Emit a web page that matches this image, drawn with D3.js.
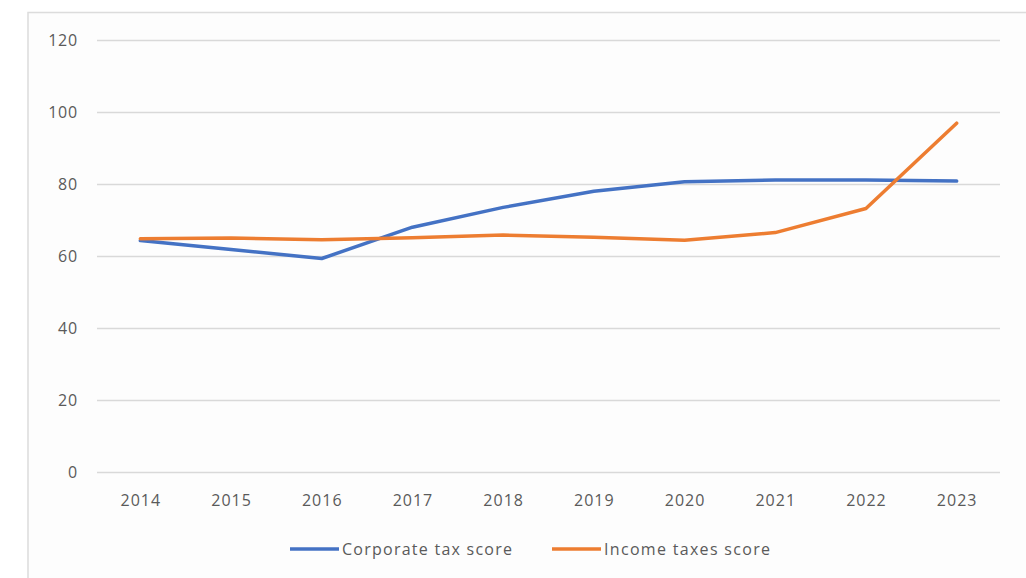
<!DOCTYPE html>
<html>
<head>
<meta charset="utf-8">
<script src="https://cdn.jsdelivr.net/npm/d3@7/dist/d3.min.js"></script>
<style>
  html, body { margin: 0; padding: 0; background: #ffffff; }
  svg { display: block; }
  text { font-family: "Open Sans", Lato, sans-serif; fill: #5a5a5a; }
</style>
</head>
<body>
<svg id="chart" width="1026" height="578"></svg>
<script>
// Annual scores
const years = ["2014", "2015", "2016", "2017", "2018", "2019", "2020", "2021", "2022", "2023"];
const corporateTax = [64.3, 61.8, 59.3, 68.0, 73.5, 78.0, 80.6, 81.1, 81.1, 80.8];
const incomeTaxes = [64.8, 65.0, 64.5, 65.1, 65.8, 65.2, 64.4, 66.5, 73.2, 96.9];
const yTicks = [0, 20, 40, 60, 80, 100, 120];
const seriesNames = ["Corporate tax score", "Income taxes score"];
const seriesColors = ["#4472C4", "#ED7D31"];

const svg = d3.select("#chart");
const labelFont = "'Open Sans', Lato, sans-serif";

// Chart frame
svg.append("rect")
  .attr("x", 28).attr("y", 12.5)
  .attr("width", 1040).attr("height", 600)
  .attr("fill", "#fdfdfd")
  .attr("stroke", "#dcdcdc").attr("stroke-width", 1.5);

const plotLeft = 97, plotRight = 1000;

const x = d3.scalePoint().domain(years).range([95, 1002]).padding(0.5);
const y = d3.scaleLinear().domain([0, 120]).range([472, 40]);

// Horizontal gridlines with value labels
const yAxis = d3.axisLeft(y).tickValues(yTicks).tickSize(plotLeft - plotRight).tickPadding(19);
const gy = svg.append("g").attr("transform", `translate(${plotLeft},0)`).call(yAxis);
gy.select(".domain").remove();
gy.selectAll(".tick line").attr("stroke", "#d9d9d9").attr("stroke-width", 1.5);
gy.selectAll(".tick text")
  .attr("font-size", 16).attr("fill", "#5a5a5a")
  .attr("letter-spacing", 0.8)
  .style("font-family", labelFont);

// Category labels
const xAxis = d3.axisBottom(x).tickSize(0);
const gx = svg.append("g").attr("transform", "translate(0,472)").call(xAxis);
gx.select(".domain").remove();
gx.selectAll(".tick text")
  .attr("y", 28).attr("dy", "0.35em")
  .attr("font-size", 16).attr("fill", "#5a5a5a")
  .attr("letter-spacing", 1)
  .style("font-family", labelFont);

// Series lines
const line = d3.line().x((d, i) => x(years[i])).y(d => y(d));
[corporateTax, incomeTaxes].forEach((vals, k) => {
  svg.append("path")
    .datum(vals)
    .attr("d", line)
    .attr("fill", "none")
    .attr("stroke", seriesColors[k])
    .attr("stroke-width", 3.5)
    .attr("stroke-linejoin", "round")
    .attr("stroke-linecap", "round");
});

// Legend
const legendItems = [
  { name: seriesNames[0], color: seriesColors[0], x: 290, w: 170 },
  { name: seriesNames[1], color: seriesColors[1], x: 552, w: 166 }
];
const lg = svg.append("g");
legendItems.forEach(it => {
  lg.append("line")
    .attr("x1", it.x).attr("x2", it.x + 49)
    .attr("y1", 549).attr("y2", 549)
    .attr("stroke", it.color).attr("stroke-width", 3.5);
  lg.append("text")
    .attr("x", it.x + 52).attr("y", 549)
    .attr("dy", "0.35em")
    .attr("font-size", 16)
    .attr("textLength", it.w)
    .attr("lengthAdjust", "spacing")
    .text(it.name);
});
</script>
</body>
</html>
